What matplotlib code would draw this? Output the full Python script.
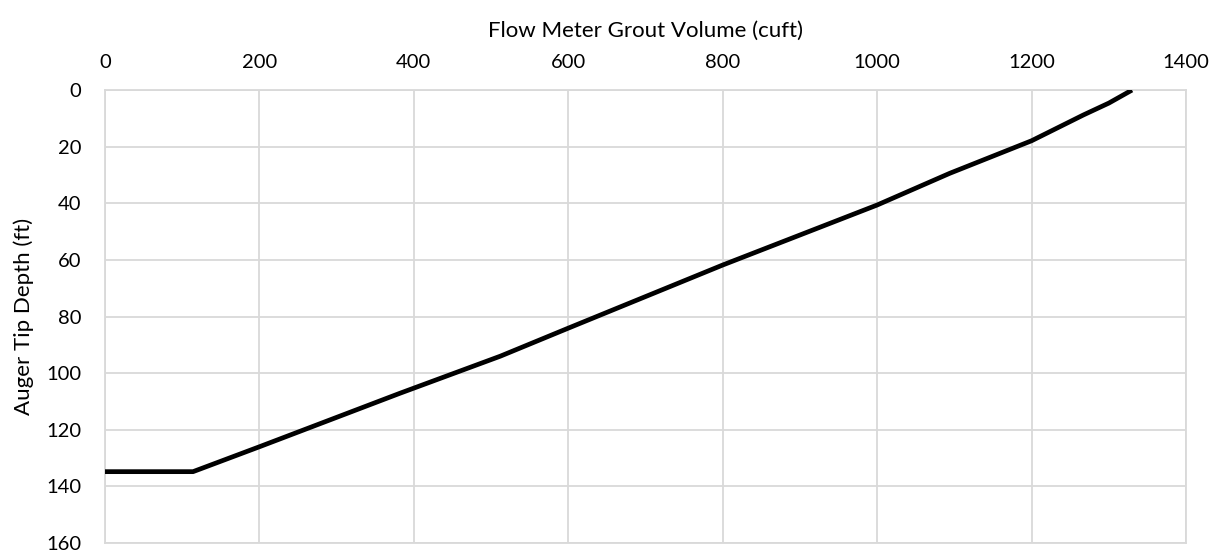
import matplotlib.pyplot as plt

# Grout volume vs auger tip depth
volume = [0, 114, 200, 382, 512, 600, 800, 1000, 1094, 1200, 1267, 1300, 1330]
depth = [134.8, 134.8, 126.0, 107.1, 94.0, 84.1, 61.8, 40.6, 29.4, 17.9, 8.8, 4.6, 0]

x_ticks = [0, 200, 400, 600, 800, 1000, 1200, 1400]
y_ticks = [0, 20, 40, 60, 80, 100, 120, 140, 160]

plt.rcParams['font.family'] = ['Lato', 'DejaVu Sans']
grid_color = '#d9d9d9'

fig = plt.figure(figsize=(12.24, 5.56), dpi=100)
ax = fig.add_axes([0.0858, 0.0234, 0.969 - 0.0858, 0.838 - 0.0234])

ax.plot(volume, depth, color='black', linewidth=3.4, solid_capstyle='butt', zorder=3)

ax.set_xlim(0, 1400)
ax.set_ylim(160, 0)
ax.set_xticks(x_ticks)
ax.set_yticks(y_ticks)
ax.xaxis.tick_top()
ax.xaxis.set_label_position('top')
ax.tick_params(length=0, labelsize=14.5, colors='#000000')
ax.tick_params(axis='x', pad=14)
ax.tick_params(axis='y', pad=17)
ax.grid(True, color=grid_color, linewidth=1.3)
ax.set_axisbelow(True)
for s in ax.spines.values():
    s.set_color(grid_color)
    s.set_linewidth(1.3)

ax.set_xlabel('Flow Meter Grout Volume (cuft)', fontsize=16, labelpad=12)
ax.set_ylabel('Auger Tip Depth (ft)', fontsize=16, labelpad=9)

fig.savefig('out.png', dpi=100)
